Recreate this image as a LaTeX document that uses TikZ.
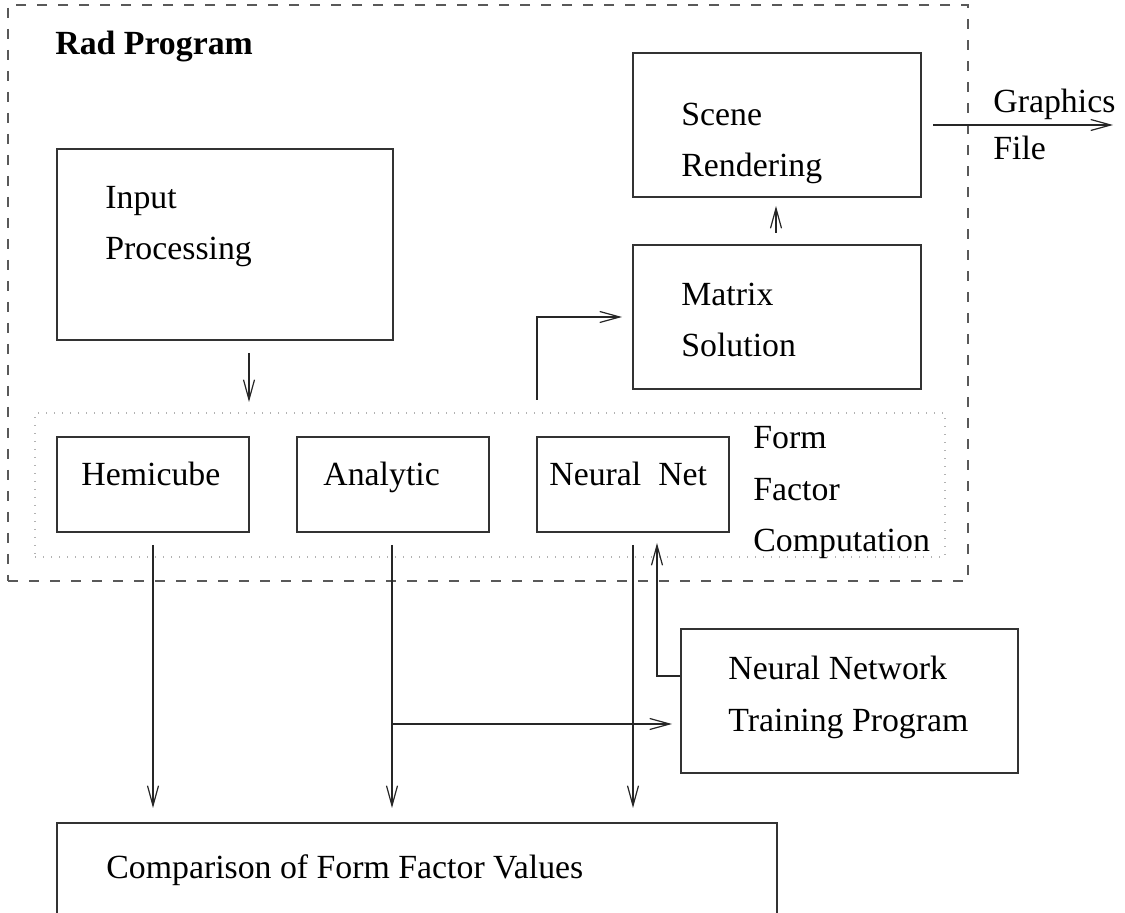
\documentclass[tikz,border=0pt]{standalone}
\usepackage{fontspec}
\setmainfont{Liberation Serif}
\usetikzlibrary{arrows.meta}
\begin{document}
\begin{tikzpicture}[x=0.5pt,y=-0.5pt,
  font=\fontsize{16.9pt}{20pt}\selectfont,
  box/.style={draw=black!80,line width=0.8pt,inner sep=0pt,minimum width=#1},
  txt/.style={anchor=base west,inner sep=0pt},
  conn/.style={draw=black!85,line width=0.7pt},
  arr/.style={conn,-{Straight Barb[length=10pt,width=5.5pt,line width=0.6pt]}}]
\useasboundingbox (0,0) rectangle (1125,913);
\clip (0,0) rectangle (1125,913);
% outer dashed frame
\node[draw=black!65,line width=0.7pt,dash pattern=on 5pt off 5.5pt,inner sep=0pt,
  minimum width=480pt,minimum height=288pt] (rad) at (488,293) {};
\node[txt,font=\fontsize{16.9pt}{20pt}\selectfont\bfseries] (radlbl) at (55,55) {Rad Program};
% dotted group
\node[draw=black!30,line width=0.6pt,dash pattern=on 0.6pt off 3.4pt,inner sep=0pt,
  minimum width=455pt,minimum height=72pt] (ffc) at (490,485) {};
% boxes
\node[box=144pt,minimum height=72pt] (scene) at (777,125) {};
\node[box=144pt,minimum height=72pt] (matrix) at (777,317) {};
\node[box=168pt,minimum height=95.5pt] (input) at (225,244.5) {};
\node[box=96pt,minimum height=47.5pt] (hemi) at (153,484.5) {};
\node[box=96pt,minimum height=47.5pt] (analytic) at (393,484.5) {};
\node[box=96pt,minimum height=47.5pt] (neural) at (633,484.5) {};
\node[box=168.5pt,minimum height=72pt] (training) at (849.5,701) {};
\node[box=360pt,minimum height=92pt] (comparison) at (417,915) {};
% texts
\node[txt] (t1) at (681,126) {Scene};
\node[txt] (t2) at (681,177) {Rendering};
\node[txt] (t3) at (993,113) {Graphics};
\node[txt] (t4) at (993,160) {File};
\node[txt] (t5) at (105,209) {Input};
\node[txt] (t6) at (105,260) {Processing};
\node[txt] (t7) at (681,306) {Matrix};
\node[txt] (t8) at (681,357) {Solution};
\node[txt] (t9) at (81,486) {Hemicube};
\node[txt] (t10) at (323,486) {Analytic};
\node[txt] (t11) at (549,486) {Neural\ \ Net};
\node[txt] (t12) at (753,449) {Form};
\node[txt] (t13) at (753,501) {Factor};
\node[txt] (t14) at (753,552) {Computation};
\node[txt] (t15) at (728,680) {Neural Network};
\node[txt] (t16) at (728,732) {Training Program};
\node[txt] (t17) at (106,879) {Comparison of Form Factor Values};
% connector end points
\coordinate (gA) at (933,125);
\coordinate (gB) at (1113,125);
\coordinate (inA) at (249,353);
\coordinate (inB) at (249,402);
\coordinate (mA) at (776,233);
\coordinate (mB) at (776,206);
\coordinate (nA) at (537,400);
\coordinate (nB) at (622,317);
\coordinate (hA) at (153,545);
\coordinate (hB) at (153,808);
\coordinate (aA) at (392,545);
\coordinate (aB) at (392,808);
\coordinate (aC) at (392,724);
\coordinate (aD) at (672,724);
\coordinate (nnA) at (633,545);
\coordinate (nnB) at (633,808);
\coordinate (tA) at (657,676);
\coordinate (tB) at (657,543);
% connectors
\draw[arr] (gA) -- (gB);
\draw[arr] (inA) -- (inB);
\draw[arr] (mA) -- (mB);
\draw[arr] (nA) |- (nB);
\draw[arr] (hA) -- (hB);
\draw[arr] (aA) -- (aB);
\draw[arr] (aC) -- (aD);
\draw[arr] (nnA) -- (nnB);
\draw[arr] (training.west |- tA) -- (tA) -- (tB);
\end{tikzpicture}
\end{document}
